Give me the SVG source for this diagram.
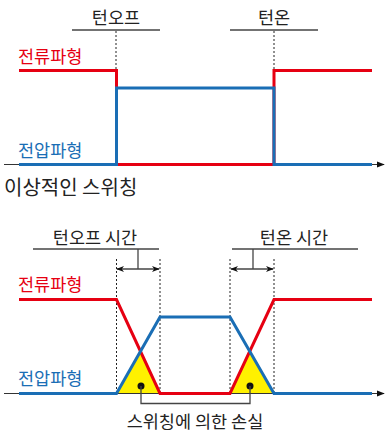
<svg xmlns="http://www.w3.org/2000/svg" width="385" height="432" viewBox="0 0 385 432">
<defs>
<style>
text{font-family:"Noto Sans CJK KR","Noto Sans",sans-serif;font-size:17.5px;}
.k{fill:#222;}
.r{fill:#e60012;}
.b{fill:#1a6eb5;}
.rl{fill:none;stroke:#e60012;stroke-width:3;}
.bl{fill:none;stroke:#1a6eb5;stroke-width:3;}
.ax{fill:none;stroke:#333;stroke-width:1.2;}
.gl{fill:none;stroke:#444;stroke-width:1.3;}
.dash{fill:none;stroke:#222;stroke-width:1;stroke-dasharray:2,2;}
.loss{fill:#fff100;}
</style>
<marker id="ah" viewBox="0 0 10 10" refX="9" refY="5" markerWidth="8" markerHeight="8" markerUnits="userSpaceOnUse" orient="auto">
<path d="M0,1 L10,5 L0,9 Z" fill="#111"/>
</marker>
<marker id="dh" viewBox="0 0 10 10" refX="9" refY="5" markerWidth="8" markerHeight="8" markerUnits="userSpaceOnUse" orient="auto-start-reverse">
<path d="M0,1 L10,5 L0,9 L3,5 Z" fill="#111"/>
</marker>
</defs>
<rect width="385" height="432" fill="#fff"/>

<g id="ideal">
<g id="label-turnoff">
<text class="k" x="116" y="24" text-anchor="middle">턴오프</text>
<line class="gl" x1="72" y1="30" x2="160" y2="30"/>
</g>
<g id="label-turnon">
<text class="k" x="274" y="24" text-anchor="middle">턴온</text>
<line class="gl" x1="230" y1="30" x2="318" y2="30"/>
</g>
<g id="label-current1"><text class="r" x="18" y="63">전류파형</text></g>
<g id="label-voltage1"><text class="b" x="18" y="157">전압파형</text></g>
<g id="title1"><text class="k" x="4" y="195" style="font-size:20px">이상적인 스위칭</text></g>
</g>

<g id="real">
<g id="label-turnoff-time">
<text class="k" x="95" y="244" text-anchor="middle">턴오프 시간</text>
<line class="gl" x1="33" y1="249" x2="159" y2="249"/>
</g>
<g id="label-turnon-time">
<text class="k" x="294" y="244" text-anchor="middle">턴온 시간</text>
<line class="gl" x1="232" y1="249" x2="358" y2="249"/>
</g>
<g id="label-current2"><text class="r" x="18" y="291">전류파형</text></g>
<g id="label-voltage2"><text class="b" x="18" y="385">전압파형</text></g>
<g id="loss-turnoff">
<polygon class="loss" points="116.5,393.5 160,393.5 140.3,351.5"/>
<circle cx="141" cy="386" r="3.5" fill="#111"/>
</g>
<g id="loss-turnon">
<polygon class="loss" points="230,393.5 274,393.5 250.2,351.5"/>
<circle cx="250" cy="386" r="3.5" fill="#111"/>
</g>
<g id="label-loss"><text class="k" x="195" y="428" text-anchor="middle">스위칭에 의한 손실</text></g>
</g>

<g id="connectors">
<line class="dash" x1="116" y1="31" x2="116" y2="70"/>
<line class="dash" x1="274" y1="31" x2="274" y2="70"/>
<line class="ax" x1="4" y1="164.5" x2="384" y2="164.5" marker-end="url(#ah)"/>
<polyline class="rl" points="19,70.5 116.5,70.5 116.5,164.5 274,164.5"/>
<polyline class="rl" points="274,164.5 274,70.5 372,70.5"/>
<polyline class="bl" points="19,164.5 116.5,164.5 116.5,88 274,88 274,164.5 372,164.5"/>
<line class="dash" x1="116.5" y1="259" x2="116.5" y2="393"/>
<line class="dash" x1="160" y1="259" x2="160" y2="393"/>
<line class="dash" x1="230" y1="259" x2="230" y2="393"/>
<line class="dash" x1="274" y1="259" x2="274" y2="393"/>
<line class="gl" x1="138" y1="249" x2="138" y2="269"/>
<line class="gl" x1="253" y1="249" x2="253" y2="269"/>
<line class="gl" x1="117" y1="269" x2="159" y2="269" marker-start="url(#dh)" marker-end="url(#dh)"/>
<line class="gl" x1="231" y1="269" x2="273" y2="269" marker-start="url(#dh)" marker-end="url(#dh)"/>
<line class="ax" x1="4" y1="393.5" x2="384" y2="393.5" marker-end="url(#ah)"/>
<polyline class="rl" points="19,299.5 116.5,299.5 160,393.5 230,393.5 274,299.5 372,299.5"/>
<polyline class="bl" points="19,393.5 116.5,393.5 160,317 230,317 274,393.5 372,393.5"/>
<polyline class="gl" points="141,386 141,403.5 250,403.5 250,386"/>
</g>
</svg>
